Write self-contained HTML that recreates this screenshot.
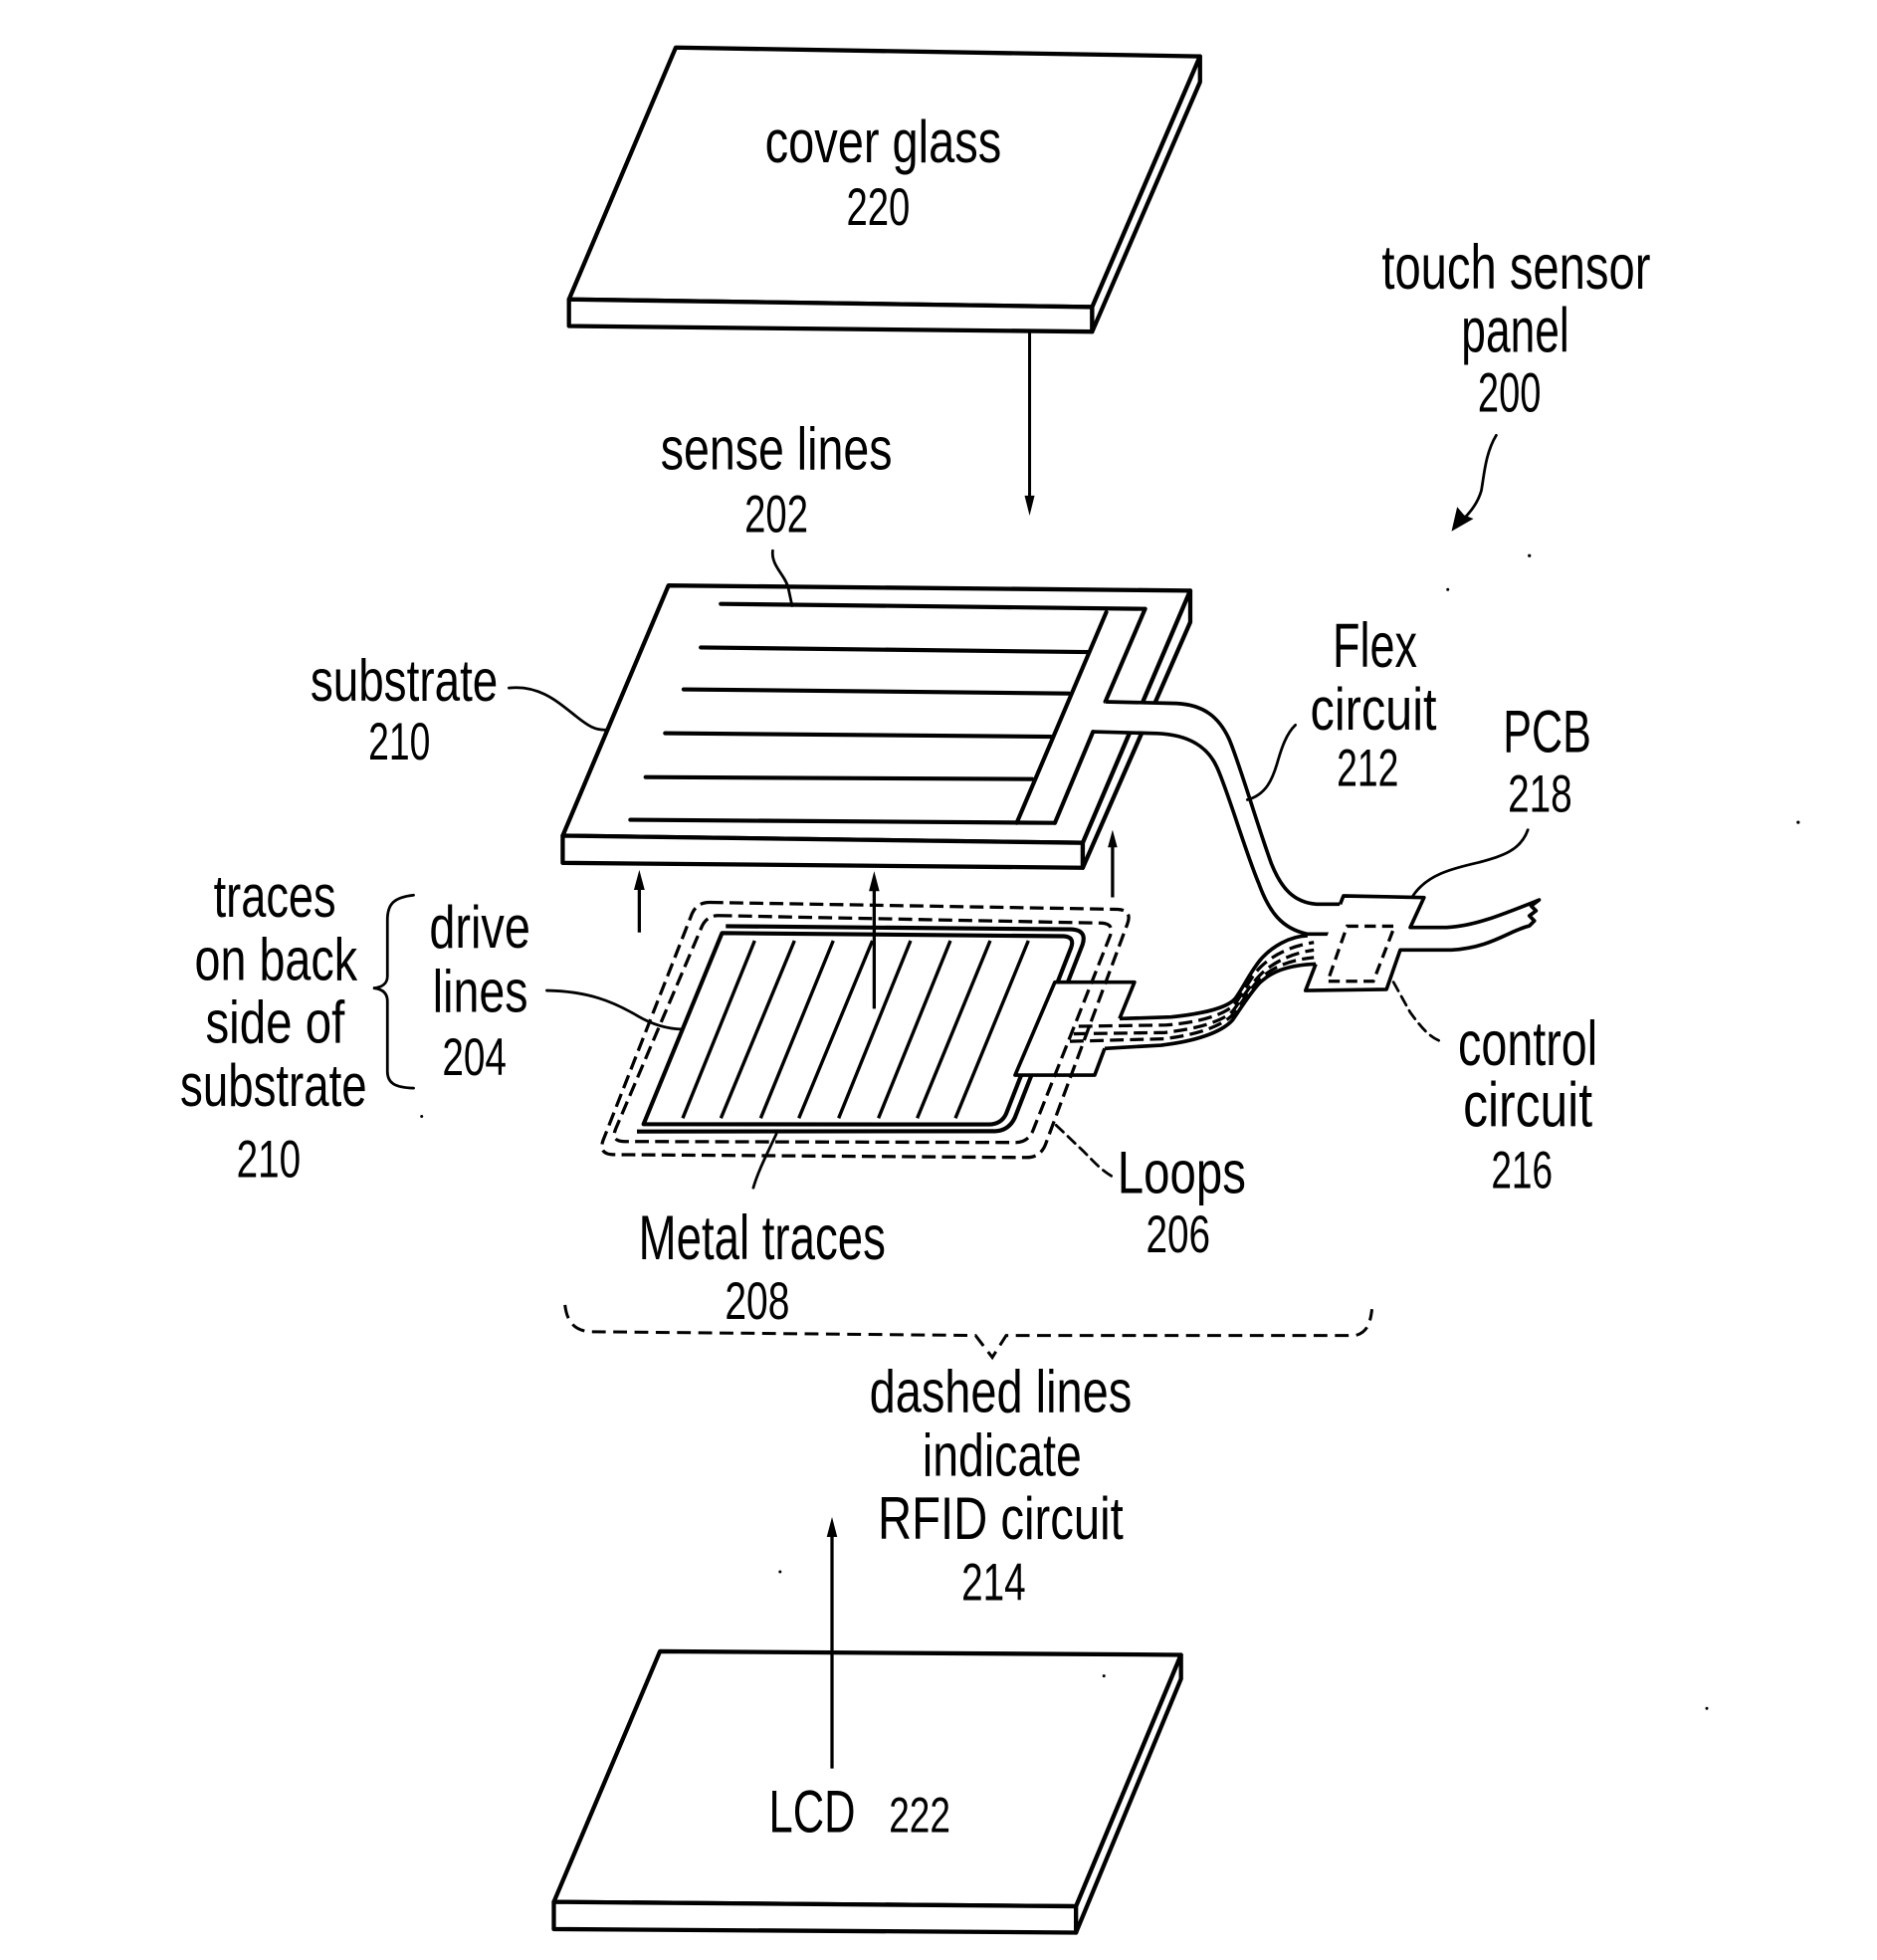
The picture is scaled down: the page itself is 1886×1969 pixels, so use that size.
<!DOCTYPE html>
<html><head><meta charset="utf-8"><style>
html,body{margin:0;padding:0;background:#fff;}
svg{display:block;}
text{font-family:"Liberation Sans Narrow","Liberation Sans",Arial,sans-serif;fill:#000;}
</style></head><body>
<svg width="1886" height="1969" viewBox="0 0 1500 1566" preserveAspectRatio="none" xmlns="http://www.w3.org/2000/svg">
<rect x="0" y="0" width="1500" height="1566" fill="#fff"/>
<g fill="#fff" stroke="#000" stroke-width="3.4" stroke-linejoin="round" stroke-linecap="round">
<!-- cover glass -->
<polygon points="540,38 959,45 872.8,245.3 454.7,239.2"/>
<polygon points="454.7,239.2 872.8,245.3 872.8,265 454.7,260.5"/>
<polygon points="959,45 959,65.5 872.8,265 872.8,245.3"/>
<!-- substrate -->
<polygon points="534.2,467.8 951.2,471.9 865.3,673.4 449.7,667.7"/>
<polygon points="449.7,667.7 865.3,673.4 865.3,693.3 449.7,689.4"/>
<polygon points="951.2,471.9 951.2,497.1 865.3,693.3 865.3,673.4"/>
</g>
<!-- arrow cover glass -> substrate -->
<g stroke="#000" stroke-width="2.4" fill="none">
<line x1="822.8" y1="266" x2="822.8" y2="400"/>
</g>
<polygon points="822.8,412 818.8,396 826.8,396" fill="#000"/>

<!-- sense lines & band -->
<g stroke="#000" stroke-width="3.3" fill="none" stroke-linecap="round" stroke-linejoin="round">
<line x1="576" y1="482.5" x2="915.1" y2="486.5"/>
<line x1="560" y1="517.3" x2="869.5" y2="521"/>
<line x1="546.3" y1="550.8" x2="854.2" y2="554.1"/>
<line x1="531.5" y1="585.8" x2="839.8" y2="588.6"/>
<line x1="515.9" y1="620.9" x2="825" y2="622.5"/>
<line x1="503.7" y1="655" x2="843" y2="657.5"/>
<polyline points="915.1,486.5 883.3,560.7"/>
<polyline points="873.5,584.6 843,657.5"/>
<line x1="884.1" y1="489.1" x2="812.5" y2="657.5"/>
</g>

<!-- flex circuit -->
<path d="M883.3,560.7 L940,562 C962,563 974,573 982,590 C990,608 1005,660 1016,690 C1024,710 1034,721 1052,722.4 L1071,722.4 L1066,746.3 L1045,746.3 C1024,742 1014,728 1006,706 C995,680 980,628 972,612 C965,597 950,587 925,586 L873.5,584.6 Z" fill="#fff" stroke="none"/>
<g stroke="#000" stroke-width="2.9" fill="none" stroke-linejoin="round">
<path d="M883.3,560.7 L940,562 C962,563 974,573 982,590 C990,608 1005,660 1016,690 C1024,710 1034,721 1052,722.4 L1071,722.4"/>
<path d="M873.5,584.6 L925,586 C950,587 965,597 972,612 C980,628 995,680 1006,706 C1014,728 1024,742 1045,746.3 L1066,746.3"/>
</g>

<!-- metal traces 208 -->
<g stroke="#000" stroke-width="3.3" fill="none" stroke-linejoin="round">
<path d="M577,745.5 L850,748 Q859,748.5 856,757 L804,890 Q800,898.5 790,898.4 L514.3,898.2 Z"/>
<path d="M580,740 L856,742.5 Q869,743 865,755 L811,893 Q806,903.5 795,903.8 L509,904"/>
</g>
<!-- drive lines -->
<g stroke="#000" stroke-width="2.7" fill="none">
<line x1="603.1" y1="751.6" x2="545.6" y2="893.4"/>
<line x1="634.9" y1="751.6" x2="576.1" y2="893.4"/>
<line x1="665.9" y1="751.6" x2="607.9" y2="893.4"/>
<line x1="697.2" y1="751.6" x2="638.4" y2="893.4"/>
<line x1="727.7" y1="751.6" x2="670.2" y2="893.4"/>
<line x1="759.5" y1="751.6" x2="702" y2="893.4"/>
<line x1="791.3" y1="751.6" x2="733" y2="893.4"/>
<line x1="821.8" y1="751.6" x2="763.5" y2="893.4"/>
</g>

<!-- ribbon from tab -->
<path d="M894.7,813.9 L935.8,812.6 C960,810 980,806 987,798 C993,790 1000,775 1008,766 C1016,757 1030,748 1045,747.6 L1051.5,770.2 C1028,771 1015,777 1006,786 C998,795 992,805 985,815 C976,825 955,832 927.9,835.1 L882.8,837.7 Z" fill="#fff" stroke="none"/>
<!-- tab -->
<polygon points="843,784.7 906.6,784.7 894.7,813.9 882.8,837.7 874.8,859 811.2,859" fill="#fff" stroke="none"/>
<g stroke="#000" stroke-width="2.9" fill="none" stroke-linejoin="round">
<polyline points="894.7,813.9 906.6,784.7 843,784.7 811.2,859 874.8,859 882.8,837.7"/>
<path d="M894.7,813.9 L935.8,812.6 C960,810 980,806 987,798 C993,790 1000,775 1008,766 C1016,757 1030,748 1045,747.6"/>
<path d="M882.8,837.7 L927.9,835.1 C955,832 976,825 985,815 C992,805 998,795 1006,786 C1015,777 1028,771 1051.5,770.2"/>
</g>

<!-- loops 206 (dashed) -->
<g stroke="#000" stroke-width="2.6" fill="none" stroke-dasharray="11,5">
<path d="M567,721 L893,726.5 Q905,727 901,738 L836,913 Q832,925 820,924.8 L490,922.5 Q478,922 482,911 L553,730 Q557,721 567,721 Z"/>
<path d="M574,731.5 L880,737.5 Q891,738 887,748 L826,902 Q822,913 811,912.8 L499,912 Q488,912 492,902 L561,740 Q565,731.5 574,731.5 Z"/>
<path d="M862,820 L932,819 C958,817 978,811 986,803 C993,795 999,781 1007,773 C1016,764 1030,756 1050,753"/>
<path d="M858,826 L931,825 C957,822 977,816 985,808 C992,799 999,787 1007,779 C1016,770 1030,762 1050,759"/>
<path d="M855,832 L930,830 C956,827 976,820 985,811 C992,802 998,791 1006,783 C1015,774 1029,767 1050,765"/>
</g>

<!-- PCB 218 -->
<path d="M1071,722.4 L1073.6,715.8 L1138,717.1 L1127,741 L1156,741 C1178,740 1200,731 1230,719 L1223.6,723.8 L1227.5,727.7 L1222.2,731.7 L1226.2,735.7 L1222.2,739.7 C1205,744 1192,757 1160,759 L1119,759 L1108,790.5 L1043.3,791.4 L1051.5,770.2 Z" fill="#fff" stroke="none"/>
<path d="M1071,722.4 L1073.6,715.8 L1138,717.1 L1127,741 L1156,741 C1178,740 1200,731 1230,719 L1223.6,723.8 L1227.5,727.7 L1222.2,731.7 L1226.2,735.7 L1222.2,739.7 C1205,744 1192,757 1160,759 L1119,759 L1108,790.5 L1043.3,791.4 L1051.5,770.2" fill="none" stroke="#000" stroke-width="2.9" stroke-linejoin="round"/>
<!-- control circuit dashed -->
<polygon points="1076.5,740 1114.5,740 1097.5,784 1061,784" fill="none" stroke="#000" stroke-width="2.6" stroke-dasharray="9,5"/>

<!-- up arrows -->
<g stroke="#000" stroke-width="2.6" fill="none">
<line x1="510.9" y1="745" x2="510.9" y2="706"/>
<line x1="698.6" y1="806" x2="698.6" y2="707"/>
<line x1="889.1" y1="717" x2="889.1" y2="674"/>
</g>
<g fill="#000">
<polygon points="510.9,695 506.6,711 515.2,711"/>
<polygon points="698.6,696 694.4,712 702.8,712"/>
<polygon points="889.1,663 885.3,677 892.9,677"/>
</g>

<!-- LCD -->
<g fill="#fff" stroke="#000" stroke-width="3.4" stroke-linejoin="round">
<polygon points="527.4,1319.4 943.8,1322.2 859.9,1523.1 442.6,1519.6"/>
<polygon points="442.6,1519.6 859.9,1523.1 859.9,1544.1 442.6,1541.3"/>
<polygon points="943.8,1322.2 943.8,1341.4 859.9,1544.1 859.9,1523.1"/>
</g>
<line x1="664.9" y1="1413" x2="664.9" y2="1224" stroke="#000" stroke-width="2.6"/>
<polygon points="664.9,1212 660.7,1228 669.1,1228" fill="#000"/>

<!-- leaders -->
<g stroke="#000" stroke-width="2.2" fill="none" stroke-linecap="round">
<path d="M617.5,440 C616,452 628,460 630,470 L633,484"/>
<path d="M406.7,549.7 C430,547 445,560 460,572 C470,580 476,584 486,583"/>
<path d="M437,791.4 C470,792 490,800 510,812 C522,819 533,822 545,822.4"/>
<path d="M620.4,906 C614,920 606,935 602,949"/>
<path d="M1035.2,579.3 C1028,586 1024,598 1020.6,610 C1017,622 1012,635 996.8,639"/>
<path d="M1221,663 C1215,680 1200,684 1182,689 C1160,694 1140,699 1129,716"/>
<path d="M1195.7,347.8 C1187,362 1186,380 1183.8,392 C1181,402 1175,410 1166,418"/>
<!-- left brace -->
<path d="M330.5,715.2 C315,717 309.6,722 309.6,735 L309.6,780 C309.6,786 305,789 298.2,789.5 C305,790 309.6,793 309.6,800 L309.6,856 C309.6,865 315,869 330.5,869.4"/>
</g>
<polygon points="1160,424.5 1164.5,405 1170,411.5 1177.5,414.5" fill="#000"/>
<g stroke="#000" stroke-width="2.2" fill="none" stroke-dasharray="8,5" stroke-linecap="round">
<path d="M844,899 L866,920 C874,928 880,935 889,940"/>
<path d="M1113.6,784.7 L1126.8,808.6 C1135,820 1143,830 1153.3,832.5"/>
</g>
<!-- bottom brace dashed -->
<path d="M451.5,1042.6 C453,1055 458,1063 471.6,1064 L779.6,1067 L793,1084.5 L804.1,1067 L1083,1067 C1092,1065 1095,1058 1096.4,1046" fill="none" stroke="#000" stroke-width="2.4" stroke-dasharray="11,6"/>

<!-- stray dots -->
<g fill="#000">
<circle cx="1222.2" cy="444" r="1.3"/>
<circle cx="1437" cy="657" r="1.3"/>
<circle cx="337" cy="892" r="1.2"/>
<circle cx="623.4" cy="1255.8" r="1.2"/>
<circle cx="882.2" cy="1339" r="1.2"/>
<circle cx="1157" cy="471" r="1.2"/>
<circle cx="1364" cy="1365" r="1.2"/>
</g>

<!-- texts -->
<g>
<text x="611.3" y="129.5" font-size="48" textLength="189" lengthAdjust="spacingAndGlyphs">cover glass</text>
<text x="676.4" y="179.8" font-size="42" textLength="50.8" lengthAdjust="spacingAndGlyphs">220</text>
<text x="1104.2" y="230.7" font-size="50" textLength="214.8" lengthAdjust="spacingAndGlyphs">touch sensor</text>
<text x="1167.8" y="281" font-size="50" textLength="86.2" lengthAdjust="spacingAndGlyphs">panel</text>
<text x="1181" y="328.7" font-size="44" textLength="50.5" lengthAdjust="spacingAndGlyphs">200</text>
<text x="527.9" y="374.8" font-size="48" textLength="185.1" lengthAdjust="spacingAndGlyphs">sense lines</text>
<text x="595" y="425" font-size="42" textLength="50.8" lengthAdjust="spacingAndGlyphs">202</text>
<text x="248" y="560" font-size="47" textLength="149.9" lengthAdjust="spacingAndGlyphs">substrate</text>
<text x="294.4" y="606.8" font-size="42" textLength="49.5" lengthAdjust="spacingAndGlyphs">210</text>
<text x="1065" y="532.7" font-size="50" textLength="67.5" lengthAdjust="spacingAndGlyphs">Flex</text>
<text x="1047.1" y="583" font-size="48" textLength="101" lengthAdjust="spacingAndGlyphs">circuit</text>
<text x="1068.2" y="628" font-size="42" textLength="49.5" lengthAdjust="spacingAndGlyphs">212</text>
<text x="1201.2" y="601" font-size="48" textLength="70.4" lengthAdjust="spacingAndGlyphs">PCB</text>
<text x="1205" y="648.6" font-size="42" textLength="51.4" lengthAdjust="spacingAndGlyphs">218</text>
<text x="170.7" y="732.4" font-size="48" textLength="97.8" lengthAdjust="spacingAndGlyphs">traces</text>
<text x="155.5" y="783" font-size="48" textLength="130.1" lengthAdjust="spacingAndGlyphs">on back</text>
<text x="164.2" y="833.2" font-size="48" textLength="111.2" lengthAdjust="spacingAndGlyphs">side of</text>
<text x="144" y="883.5" font-size="48" textLength="149.2" lengthAdjust="spacingAndGlyphs">substrate</text>
<text x="189" y="940.5" font-size="42" textLength="51.3" lengthAdjust="spacingAndGlyphs">210</text>
<text x="343.1" y="757.1" font-size="48" textLength="80.7" lengthAdjust="spacingAndGlyphs">drive</text>
<text x="345.8" y="808.5" font-size="48" textLength="76.1" lengthAdjust="spacingAndGlyphs">lines</text>
<text x="353.4" y="859.1" font-size="42" textLength="51.4" lengthAdjust="spacingAndGlyphs">204</text>
<text x="1165.2" y="851" font-size="50" textLength="111.4" lengthAdjust="spacingAndGlyphs">control</text>
<text x="1169.2" y="900" font-size="50" textLength="103.4" lengthAdjust="spacingAndGlyphs">circuit</text>
<text x="1191.7" y="949.1" font-size="42" textLength="49.1" lengthAdjust="spacingAndGlyphs">216</text>
<text x="510.3" y="1006" font-size="50" textLength="197.5" lengthAdjust="spacingAndGlyphs">Metal traces</text>
<text x="579.3" y="1053.8" font-size="42" textLength="51.7" lengthAdjust="spacingAndGlyphs">208</text>
<text x="893" y="953.1" font-size="48" textLength="102.7" lengthAdjust="spacingAndGlyphs">Loops</text>
<text x="915.8" y="1000.7" font-size="42" textLength="51.4" lengthAdjust="spacingAndGlyphs">206</text>
<text x="694.8" y="1128.2" font-size="48" textLength="209.7" lengthAdjust="spacingAndGlyphs">dashed lines</text>
<text x="737.2" y="1178.9" font-size="48" textLength="127.2" lengthAdjust="spacingAndGlyphs">indicate</text>
<text x="701.5" y="1229.6" font-size="48" textLength="196.3" lengthAdjust="spacingAndGlyphs">RFID circuit</text>
<text x="768.4" y="1278.5" font-size="42" textLength="51.3" lengthAdjust="spacingAndGlyphs">214</text>
<text x="614.4" y="1463.7" font-size="48" textLength="69.2" lengthAdjust="spacingAndGlyphs">LCD</text>
<text x="710.4" y="1463.7" font-size="40" textLength="49.1" lengthAdjust="spacingAndGlyphs">222</text>
</g>
</svg>
</body></html>
